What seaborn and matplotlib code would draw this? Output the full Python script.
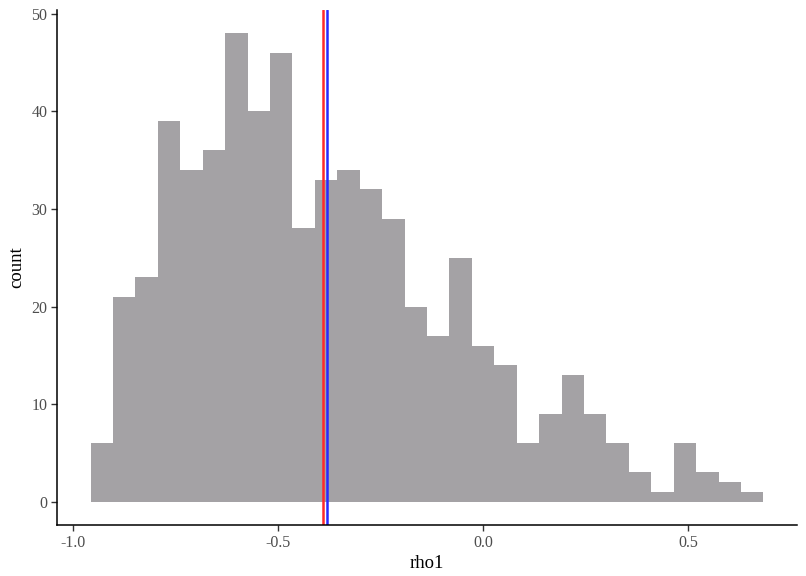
import numpy as np
import pandas as pd
import matplotlib
matplotlib.use("Agg")
import matplotlib.pyplot as plt
import seaborn as sns

# Histogram data (30 bins)
bin_start = -0.957
bin_end = 0.684
counts = [6, 21, 23, 39, 34, 36, 48, 40, 46, 28, 33, 34, 32, 29, 20,
          17, 25, 16, 14, 6, 9, 13, 9, 6, 3, 1, 6, 3, 2, 1]
red_line = -0.389
blue_line = -0.381
x_ticks = [-1.0, -0.5, 0.0, 0.5]
y_ticks = [0, 10, 20, 30, 40, 50]

edges = np.linspace(bin_start, bin_end, len(counts) + 1)
centers = (edges[:-1] + edges[1:]) / 2
df = pd.DataFrame({"rho1": centers, "count": counts})

sns.set_theme(style="ticks")
plt.rcParams['font.family'] = ['Liberation Serif', 'DejaVu Serif']

fig = plt.figure(figsize=(8.06, 5.76), dpi=100)
ax = fig.add_axes([57/806, 51/576, 740/806, 515/576])

sns.histplot(data=df, x="rho1", weights="count", bins=edges.tolist(), ax=ax,
             color="#a4a2a5", alpha=1.0, edgecolor="none", linewidth=0)

ax.axvline(red_line, color="#ff2a2a", lw=1.8)
ax.axvline(blue_line, color="#2a2aff", lw=1.8)

rng = bin_end - bin_start
ax.set_xlim(bin_start - 0.05 * rng, bin_end + 0.05 * rng)
ax.set_ylim(-0.05 * max(counts), max(counts) * 1.05)
ax.set_xticks(x_ticks)
ax.set_xticklabels([f"{t:.1f}" for t in x_ticks])
ax.set_yticks(y_ticks)
ax.set_yticklabels([str(t) for t in y_ticks])

for s in ["top", "right"]:
    ax.spines[s].set_visible(False)
for s in ["left", "bottom"]:
    ax.spines[s].set_color("black")
    ax.spines[s].set_linewidth(1.1)

ax.tick_params(axis="both", length=4, width=1, color="#333333",
               labelcolor="#4d4d4d", labelsize=11.5, pad=3)
ax.set_xlabel("rho1", fontsize=13.5, color="black", labelpad=3)
ax.set_ylabel("count", fontsize=13.5, color="black", labelpad=4)
ax.grid(False)

fig.savefig("out.png", dpi=100)
